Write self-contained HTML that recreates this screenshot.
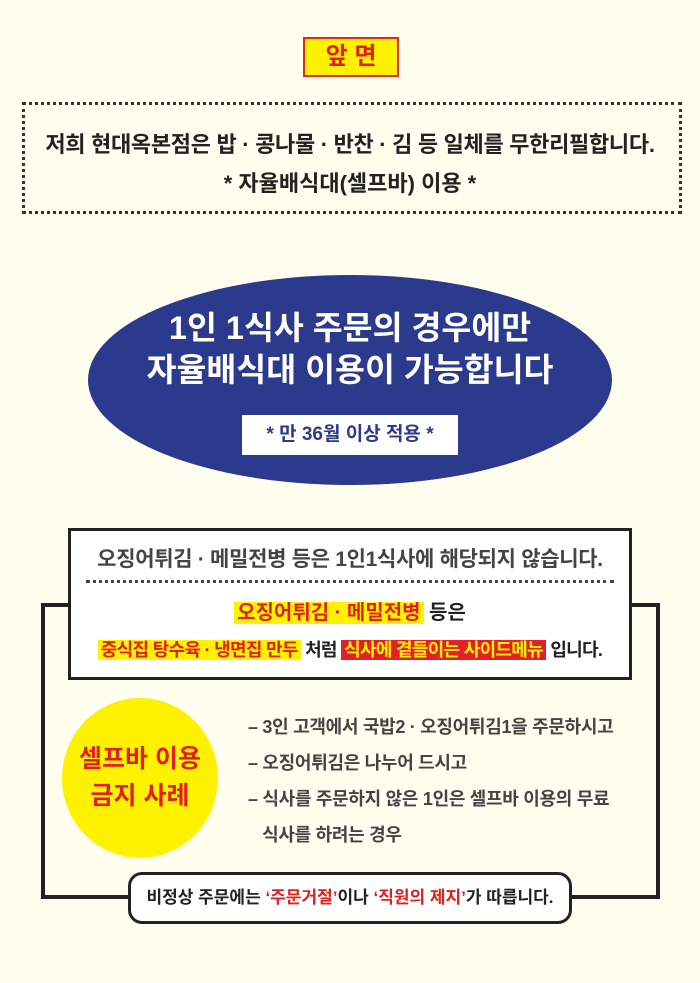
<!DOCTYPE html>
<html><head><meta charset="utf-8"><style>
body{margin:0;width:700px;height:983px;background:#fffdee;position:relative;overflow:hidden;font-family:"Liberation Sans","Noto Sans CJK KR",sans-serif;font-weight:bold}
.a{position:absolute}
.c{text-align:center;white-space:nowrap}
.hy{background:#fff200;color:#e02020;padding:0 3px}
.hr{background:#e3202a;color:#fff200;padding:0 3px}
</style></head><body>
<div class="a c" style="left:303px;top:37px;width:92px;height:36px;background:#fff200;border:2px solid #e02a20;color:#e02020;font-size:24px;line-height:36px">앞 면</div>
<div class="a" style="left:22px;top:102px;width:654px;height:106px;border:3px dotted #333"></div>
<div class="a c" style="left:0;width:700px;top:127px;font-size:22px;color:#222;letter-spacing:-0.3px">저희 현대옥본점은 밥 · 콩나물 · 반찬 · 김 등 일체를 무한리필합니다.</div>
<div class="a c" style="left:0;width:700px;top:166px;font-size:22px;color:#222">* 자율배식대(셀프바) 이용 *</div>
<div class="a" style="left:88px;top:275px;width:524px;height:210px;border-radius:50%;background:#2b3a8c"></div>
<div class="a c" style="left:0;width:700px;top:307px;font-size:32.5px;color:#fff;line-height:42px">1인 1식사 주문의 경우에만<br>자율배식대 이용이 가능합니다</div>
<div class="a c" style="left:242px;top:415px;width:216px;height:40px;background:#fff;color:#2b3a8c;font-size:19px;line-height:40px">* 만 36월 이상 적용 *</div>
<svg class="a" style="left:0;top:0" width="700" height="983"><path d="M68 605H43V897H130M570 897H658V605H632" fill="none" stroke="#222" stroke-width="4"/></svg>
<div class="a" style="left:68px;top:528px;width:558px;height:146px;background:#fff;border:3px solid #222"></div>
<div class="a c" style="left:68px;width:564px;top:543px;font-size:21px;color:#444;letter-spacing:-0.3px">오징어튀김 · 메밀전병 등은 1인1식사에 해당되지 않습니다.</div>
<div class="a" style="left:86px;top:580px;width:528px;border-top:3px dotted #444"></div>
<div class="a c" style="left:68px;width:564px;top:596px;font-size:20px;color:#222"><span class="hy">오징어튀김 · 메밀전병</span> 등은</div>
<div class="a c" style="left:68px;width:564px;top:636px;font-size:18px;color:#222;letter-spacing:-0.7px"><span class="hy">중식집 탕수육 · 냉면집 만두</span> 처럼 <span class="hr">식사에 곁들이는 사이드메뉴</span> 입니다.</div>
<div class="a c" style="left:62px;top:698px;width:156px;height:160px;border-radius:50%;background:#fff200;color:#e02020;font-size:25px;line-height:37px;display:flex;align-items:center;justify-content:center">셀프바 이용<br>금지 사례</div>
<div class="a" style="left:248px;top:709px;font-size:18px;color:#444;line-height:36px;white-space:nowrap;letter-spacing:-0.3px">– 3인 고객에서 국밥2 · 오징어튀김1을 주문하시고<br>– 오징어튀김은 나누어 드시고<br>– 식사를 주문하지 않은 1인은 셀프바 이용의 무료<br>&nbsp;&nbsp;&nbsp;식사를 하려는 경우</div>
<div class="a c" style="left:128px;top:872px;width:438px;height:46px;background:#fff;border:3px solid #222;border-radius:14px;font-size:17px;line-height:46px;color:#222">비정상 주문에는 <span style="color:#e02020">‘주문거절’</span>이나 <span style="color:#e02020">‘직원의 제지’</span>가 따릅니다.</div>
</body></html>
